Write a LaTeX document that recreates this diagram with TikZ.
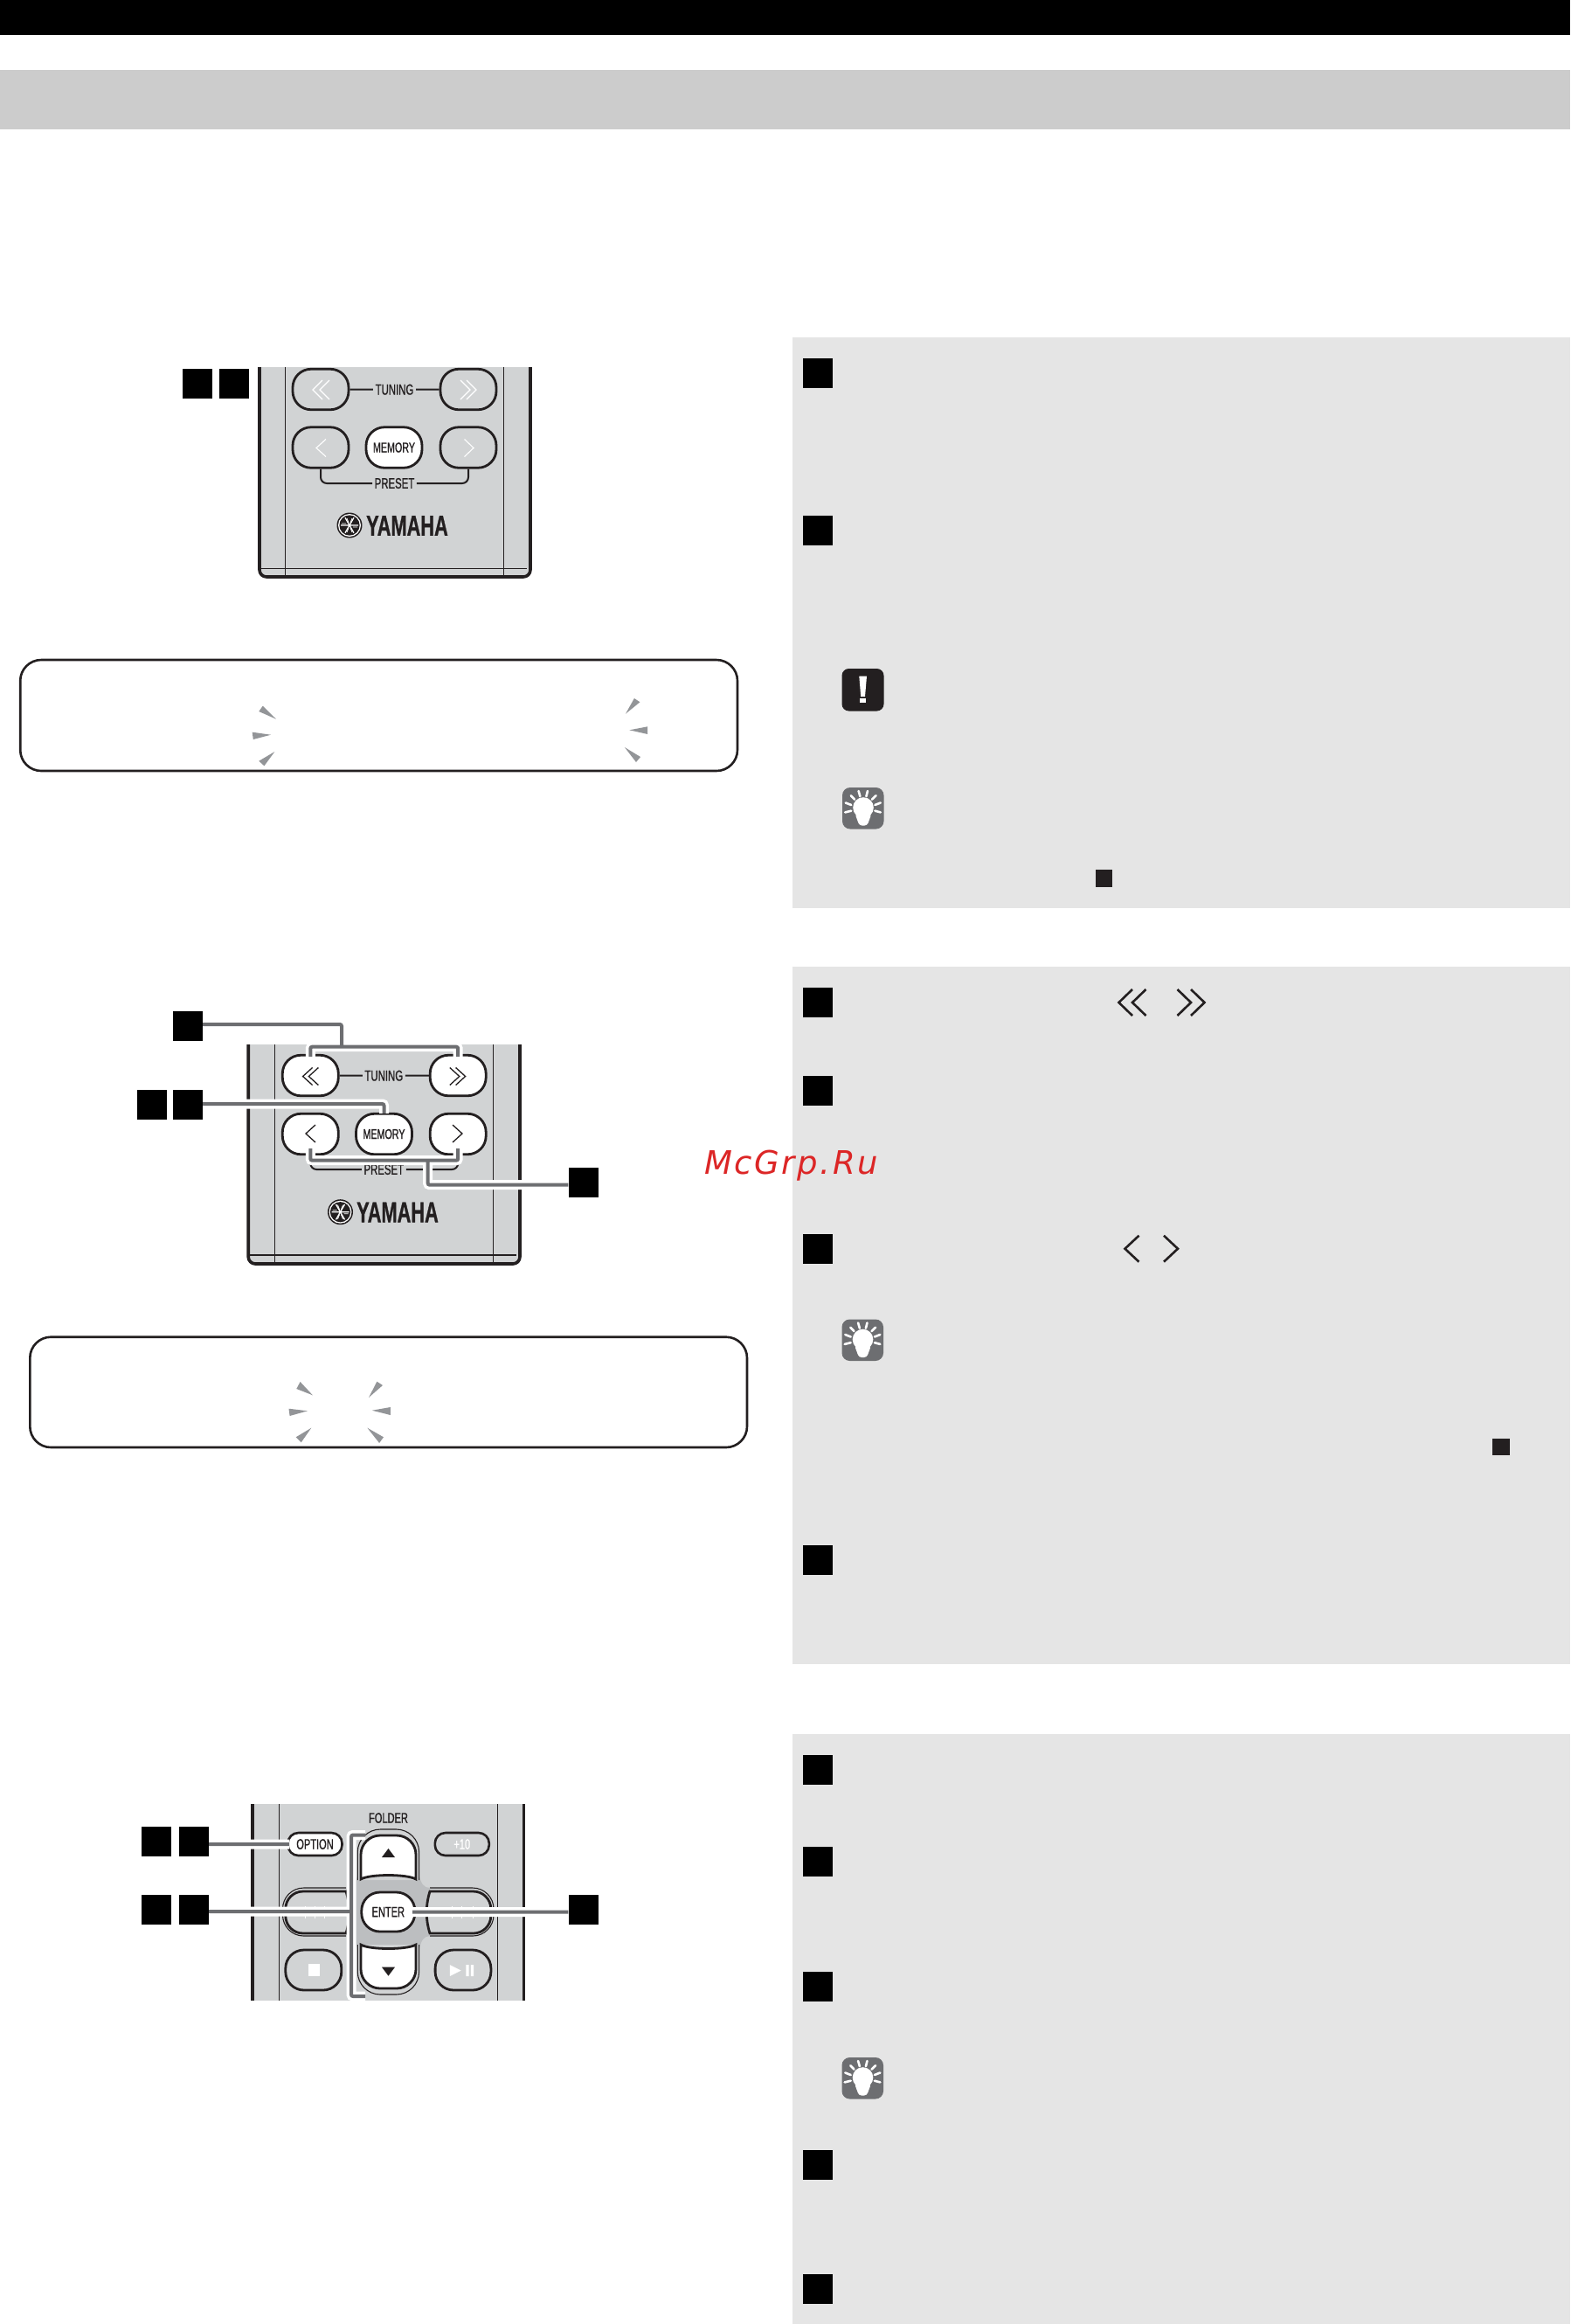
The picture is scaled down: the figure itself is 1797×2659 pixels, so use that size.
\documentclass[tikz,border=0pt]{standalone}
\usepackage{fontspec}
\setmainfont{Liberation Sans}
\newfontfamily\remf[FakeStretch=0.67,FakeBold=0.9]{Liberation Sans}
\newfontfamily\yamf[FakeStretch=0.66,FakeBold=0.8]{Liberation Sans}
\newfontfamily\wmf[LetterSpace=7]{DejaVu Sans}
\definecolor{ink}{HTML}{231F20}
\definecolor{rem}{HTML}{D1D3D4}
\definecolor{crossg}{HTML}{BCBEC0}
\definecolor{ldr}{HTML}{6D6E71}
\definecolor{panelg}{HTML}{E5E5E5}
\definecolor{bandg}{HTML}{CCCCCC}
\definecolor{tickg}{HTML}{939598}
\definecolor{wm}{HTML}{DC2626}
\newcommand{\chevn}[5]{\draw[#5] (#1,#2) ++(#3,-#4) -- ++(-#3,#4) -- ++(#3,#4);}
\tikzset{
  sq/.style={fill=black,inner sep=0pt,minimum size=34pt,draw=none},
  smallsq/.style={fill=ink,inner sep=0pt,minimum size=19.5pt,draw=none},
  btn/.style={draw=ink,line width=2.8pt,rounded corners=21pt,inner sep=0pt,minimum width=64pt,minimum height=46.5pt,fill=rem},
  wbtn/.style={btn,fill=white},
  pill/.style={draw=ink,line width=2.6pt,rounded corners=12pt,inner sep=0pt,minimum width=62pt,minimum height=26pt},
  lbl/.style={inner sep=2.5pt,font=\remf\fontsize{17}{17}\selectfont,text=ink},
  conn/.style={draw=ink,line width=2pt},
  lead/.style={draw=ldr,line width=4pt,rounded corners=2pt,preaction={draw=white,line width=11pt}},
  chevw/.style={draw=white,line width=1.1pt},
  chevd/.style={draw=ink,line width=1.3pt},
  chevb/.style={draw=ink,line width=2.6pt},
  thinl/.style={draw=ink,line width=1.1pt},
  tk/.style={fill=tickg,draw=none},
  dispbox/.style={draw=ink,line width=2.6pt,rounded corners=24pt,fill=white},
  panel/.style={fill=panelg,draw=none},
  bulb/.pic={
    \fill[ldr,rounded corners=9pt] (0,0) rectangle (47.5,47.5);
    \fill[white] (24,23) circle (11.8pt);
    \fill[white,rounded corners=3pt] (14.5,30) -- (19.5,43.5) -- (28.5,43.5) -- (33.5,30) -- cycle;
    \draw[white,line width=2.6pt,line cap=round]
      (3.2,28.4)--(10.2,26.7) (3.8,17.5)--(10.2,20) (9.8,9.2)--(14,13.6)
      (18.6,4)--(20.4,10.2) (29,4)--(27.4,10.2) (38.6,9.2)--(34,13.6)
      (43.8,17.5)--(37.4,20) (43.8,28.4)--(37.4,26.7);
  },
  yamlogo/.pic={
    \fill[ink] (0,0) circle (14.5pt);
    \fill[white] (0,0) circle (13pt);
    \fill[ink] (0,0) circle (11.6pt);
    \draw[white,line width=1.3pt] (-10,0)--(10,0) (-5,-8.7)--(5,8.7) (-5,8.7)--(5,-8.7);
    \draw[white,line width=.8pt] (-9,-2)--(-4,-2) (9,2)--(4,2) (-3,-8)--(-1,-3) (3,8)--(1,3) (3,-8)--(1,-3) (-3,8)--(-1,3);
  }
}
\begin{document}
\begin{tikzpicture}[x=1pt,y=-1pt]
\useasboundingbox (0,0) rectangle (1797,2659);
\fill[white] (0,0) rectangle (1797,2659);
% page bands
\fill[black] (0,0) rectangle (1797,40);
\fill[bandg] (0,80) rectangle (1797,148);
% panels
\fill[panel] (907,386) rectangle (1797,1038.5);
\fill[panel] (907,1106) rectangle (1797,1904);
\fill[panel] (907,1984) rectangle (1797,2659);
% panel step squares
\foreach \nm/\yy in {a1/427,a2/607,b1/1147,b2/1248,b3/1429,b4/1785,c1/2025,c2/2130,c3/2273,c4/2477,c5/2619}
  \node[sq] (\nm) at (936,\yy) {};
% small squares
\node[smallsq] (ss1) at (1263.5,1005) {};
\node[smallsq] (ss2) at (1717.8,1655.5) {};
% icons
\fill[ink,rounded corners=8pt] (963.5,765) rectangle (1011.5,813.5);
\fill[white] (983.3,773.5) -- (992,773.5) -- (990,797) -- (985.2,797) -- cycle;
\fill[white] (984,799) rectangle (991.2,804);
\pic at (964,901) {bulb};
\pic at (963.5,1509.5) {bulb};
\pic at (963.5,2354) {bulb};
% symbols in panel 2
\chevn{1280.5}{1147}{15.5}{15}{chevb}
\chevn{1296}{1147}{15.5}{15}{chevb}
\chevn{1378.5}{1147}{-15.5}{15}{chevb}
\chevn{1363}{1147}{-15.5}{15}{chevb}
\chevn{1287.5}{1428.7}{16}{15}{chevb}
\chevn{1348}{1428.7}{-16}{15}{chevb}
% display boxes
\draw[dispbox] (23.2,755) rectangle (844,882);
\fill[tk] (296.3,814) -- (300.7,807.7) -- (316,822.7) -- cycle;
\fill[tk] (288.7,837.7) -- (310,840.7) -- (289.8,846) -- cycle;
\fill[tk] (314.4,860) -- (296.3,870.7) -- (302.4,876.3) -- cycle;
\fill[tk] (725.9,799) -- (732.4,803.3) -- (716,816.7) -- cycle;
\fill[tk] (741.2,831.3) -- (720.4,835.3) -- (741.2,840) -- cycle;
\fill[tk] (714.9,855) -- (733,866) -- (728,872) -- cycle;
\draw[dispbox] (34.3,1529.7) rectangle (855,1656);
\fill[tk] (339.3,1589) -- (343.6,1581) -- (357.9,1596.3) -- cycle;
\fill[tk] (330.5,1611.7) -- (351.9,1614.3) -- (331.6,1620) -- cycle;
\fill[tk] (356.3,1633.7) -- (338.7,1644.3) -- (344.7,1650.3) -- cycle;
\fill[tk] (431.4,1580.7) -- (438,1585) -- (422,1599) -- cycle;
\fill[tk] (446.8,1610) -- (425.9,1613.7) -- (446.8,1619) -- cycle;
\fill[tk] (420.4,1633.7) -- (439,1644.3) -- (434.1,1651) -- cycle;

% ---------- remote 1
\fill[rem,rounded corners=8pt] (297,420) -- (297,660) -- (607,660) -- (607,420) -- cycle;
\fill[rem] (297,420) rectangle (607,440);
\draw[thinl] (326.7,420) -- (326.7,658) (576.7,420) -- (576.7,658) (298,650.7) -- (603,650.7);
\draw[ink,line width=3.6pt,rounded corners=8pt] (297,420) -- (297,660) -- (607,660) -- (607,420);
\node[btn] (r1tl) at (367,445.5) {};
\node[btn] (r1tr) at (536,445.5) {};
\node[btn] (r1pl) at (367,512) {};
\node[btn] (r1pr) at (536,512) {};
\node[wbtn,font=\remf\fontsize{16}{16}\selectfont,text=ink] (r1m) at (451,512) {MEMORY};
\node[lbl] (r1tun) at (451.5,445.7) {TUNING};
\node[lbl] (r1pre) at (451.5,553) {PRESET};
\draw[conn] (r1tl.east) -- (r1tun.west) (r1tun.east) -- (r1tr.west);
\draw[conn,rounded corners=7pt] (r1pl.south) |- (r1pre.west) (r1pr.south) |- (r1pre.east);
\chevn{358}{446}{11}{11}{chevw}
\chevn{366}{446}{11}{11}{chevw}
\chevn{545}{446}{-11}{11}{chevw}
\chevn{538}{446}{-11}{11}{chevw}
\chevn{362}{512.5}{11}{10}{chevw}
\chevn{542}{512.5}{-10.5}{10}{chevw}
\pic at (400,601) {yamlogo};
\node[inner sep=0pt,text=ink,font=\yamf\bfseries\fontsize{33}{33}\selectfont] (r1y) at (466,601.5) {YAMAHA};
\node[sq] (s1a) at (226,439) {};
\node[sq] (s1b) at (268,439) {};

% ---------- remote 2
\fill[rem] (284.2,1195) rectangle (595,1430);
\fill[rem,rounded corners=8pt] (284.2,1400) -- (284.2,1446) -- (595,1446) -- (595,1400) -- cycle;
\draw[thinl] (314.5,1195) -- (314.5,1444) (564.7,1195) -- (564.7,1444) (286,1436) -- (591,1436);
\draw[ink,line width=3.6pt,rounded corners=8pt] (284.2,1195) -- (284.2,1446) -- (595,1446) -- (595,1195);
\node[wbtn] (r2tl) at (355.3,1230.5) {};
\node[wbtn] (r2tr) at (524.2,1230.5) {};
\node[wbtn] (r2pl) at (355.3,1297.5) {};
\node[wbtn] (r2pr) at (524.2,1297.5) {};
\node[wbtn,font=\remf\fontsize{16}{16}\selectfont,text=ink] (r2m) at (439.5,1297.5) {MEMORY};
\node[lbl] (r2tun) at (439.3,1230.7) {TUNING};
\node[lbl] (r2pre) at (439.3,1338) {PRESET};
\draw[conn] (r2tl.east) -- (r2tun.west) (r2tun.east) -- (r2tr.west);
\draw[conn,rounded corners=7pt] (r2pl.south) |- (r2pre.west) (r2pr.south) |- (r2pre.east);
\chevn{346.6}{1231.5}{11}{10}{chevd}
\chevn{353.4}{1231.5}{11}{10}{chevd}
\chevn{532.6}{1231.5}{-11}{10}{chevd}
\chevn{525.8}{1231.5}{-11}{10}{chevd}
\chevn{350}{1297}{11}{10}{chevd}
\chevn{529}{1297}{-11}{10}{chevd}
\pic at (389.5,1386.7) {yamlogo};
\node[inner sep=0pt,text=ink,font=\yamf\bfseries\fontsize{33}{33}\selectfont] (r2y) at (455,1387) {YAMAHA};
\node[sq] (s2a) at (215,1174) {};
\node[sq] (s2b) at (174,1264) {};
\node[sq] (s2c) at (215,1264) {};
\node[sq] (s2d) at (667.5,1353) {};
\coordinate (r2topbus) at (391,1197.7);
\coordinate (r2lowbus) at (489.7,1327.7);
\draw[lead]
  ([yshift=2pt]s2a.east) -| (r2topbus)
  ([yshift=-3pt]r2tl.north) |- (r2topbus) -| ([yshift=-3pt]r2tr.north)
  ([yshift=1pt]s2c.east) -| ([yshift=-1pt]r2m.north)
  ([yshift=-2.7pt]s2d.west) -| (r2lowbus)
  ([yshift=8pt]r2pl.south) |- (r2lowbus) -| ([yshift=8pt]r2pr.south);

% ---------- remote 3
\fill[rem] (289,2064) rectangle (599.5,2288.7);
\draw[thinl] (319.4,2064) -- (319.4,2288.7) (569.5,2064) -- (569.5,2288.7);
\draw[ink,line width=3.8pt] (289,2064) -- (289,2288.7) (599.5,2064) -- (599.5,2288.7);
\node[lbl,font=\remf\fontsize{16.5}{16.5}\selectfont] (r3f) at (444.5,2080) {FOLDER};
\node[pill,fill=white,font=\remf\fontsize{16.5}{16.5}\selectfont,text=ink] (r3opt) at (360.5,2110) {OPTION};
\node[pill,fill=rem,font=\remf\fontsize{16.5}{16.5}\selectfont,text=white] (r3ten) at (528.8,2110) {+10};
% side buttons, outer rings
\draw[ink,line width=1.1pt,rounded corners=24pt] (396,2160) -- (323.5,2160) -- (323.5,2215) -- (396,2215);
\draw[ink,line width=1.1pt,rounded corners=24pt] (492,2160) -- (565,2160) -- (565,2215) -- (492,2215);
% cross centre
\fill[crossg] (409.3,2145) -- (479.6,2145) .. controls (481.6,2155) and (485,2160) .. (492,2160) -- (492,2215) .. controls (485,2215) and (481.6,2220) .. (479.6,2232) -- (409.3,2232) .. controls (407.3,2220) and (403,2215) .. (396,2215) -- (396,2160) .. controls (403,2160) and (407.3,2155) .. (409.3,2145) -- cycle;
% side buttons
\draw[ink,line width=2.8pt,fill=rem] (492,2164) [rounded corners=20pt] -- (561.8,2164) -- (561.8,2212) [sharp corners] -- (492,2212) .. controls (487,2196) and (487,2180) .. (492,2164) -- cycle;
\draw[ink,line width=2.8pt,fill=rem] (396,2164) [rounded corners=20pt] -- (326.8,2164) -- (326.8,2212) [sharp corners] -- (396,2212) .. controls (401,2196) and (401,2180) .. (396,2164) -- cycle;
\draw[white,line width=1pt] (349,2181) -- (349,2195) (360,2181) -- (360,2195) (371,2181) -- (371,2195) (517,2181) -- (517,2195) (528.5,2181) -- (528.5,2195) (541.4,2181) -- (541.4,2195);
% up button
\draw[ink,line width=1.1pt,rounded corners=26pt,fill=rem] (409.3,2151) -- (409.3,2093) -- (479.6,2093) -- (479.6,2151);
\draw[ink,line width=2.8pt,fill=white] (413,2150) [rounded corners=22pt] -- (413,2100) -- (476,2100) [sharp corners] -- (476,2150) .. controls (465.5,2144) and (423.5,2144) .. (413,2150) -- cycle;
\fill[ink] (437,2125) -- (444.5,2115) -- (452,2125) -- cycle;
% down button
\draw[ink,line width=1.1pt,rounded corners=26pt,fill=rem] (409.3,2225) -- (409.3,2282) -- (479.6,2282) -- (479.6,2225);
\draw[ink,line width=2.8pt,fill=white] (413,2225) [rounded corners=22pt] -- (413,2275) -- (476,2275) [sharp corners] -- (476,2225) .. controls (465.5,2231) and (423.5,2231) .. (413,2225) -- cycle;
\fill[ink] (437,2250.7) -- (444.5,2260.7) -- (452,2250.7) -- cycle;
\node[wbtn,minimum width=61pt,minimum height=45pt,font=\remf\fontsize{16.5}{16.5}\selectfont,text=ink] (r3ent) at (444.3,2187.5) {ENTER};
\node[btn,minimum width=64pt,minimum height=46pt] (r3stop) at (358.8,2254) {};
\node[btn,minimum width=63.8pt,minimum height=46pt] (r3play) at (530,2254) {};
\fill[white] (352.7,2246.7) rectangle (366.4,2260.7);
\fill[white] (514.8,2248) -- (527.7,2254.5) -- (514.8,2261) -- cycle;
\fill[white] (533.3,2248) rectangle (536.6,2261) (538.8,2248) rectangle (542.2,2261);
\node[sq] (s3a) at (178.9,2107) {};
\node[sq] (s3b) at (222,2107) {};
\node[sq] (s3c) at (178.9,2184.5) {};
\node[sq] (s3d) at (222,2184.5) {};
\node[sq] (s3e) at (667.5,2184.5) {};
\coordinate (brT) at (418.2,2099.5);
\coordinate (brB) at (418.2,2284);
\coordinate (brM) at (402,2187);
\draw[lead]
  (s3b.east |- r3opt.west) -- ([xshift=3pt]r3opt.west)
  (brT) -- (brT -| brM) -- (brB -| brM) -- (brB)
  (s3d.east |- brM) -- (brM)
  (s3e.west |- r3ent.east) -- ([xshift=-4pt]r3ent.east);

% watermark
\node[anchor=base west,inner sep=0pt,text=wm,font=\wmf\itshape\fontsize{37}{37}\selectfont] (wmk) at (806,1343) {McGrp.Ru};
\end{tikzpicture}
\end{document}
